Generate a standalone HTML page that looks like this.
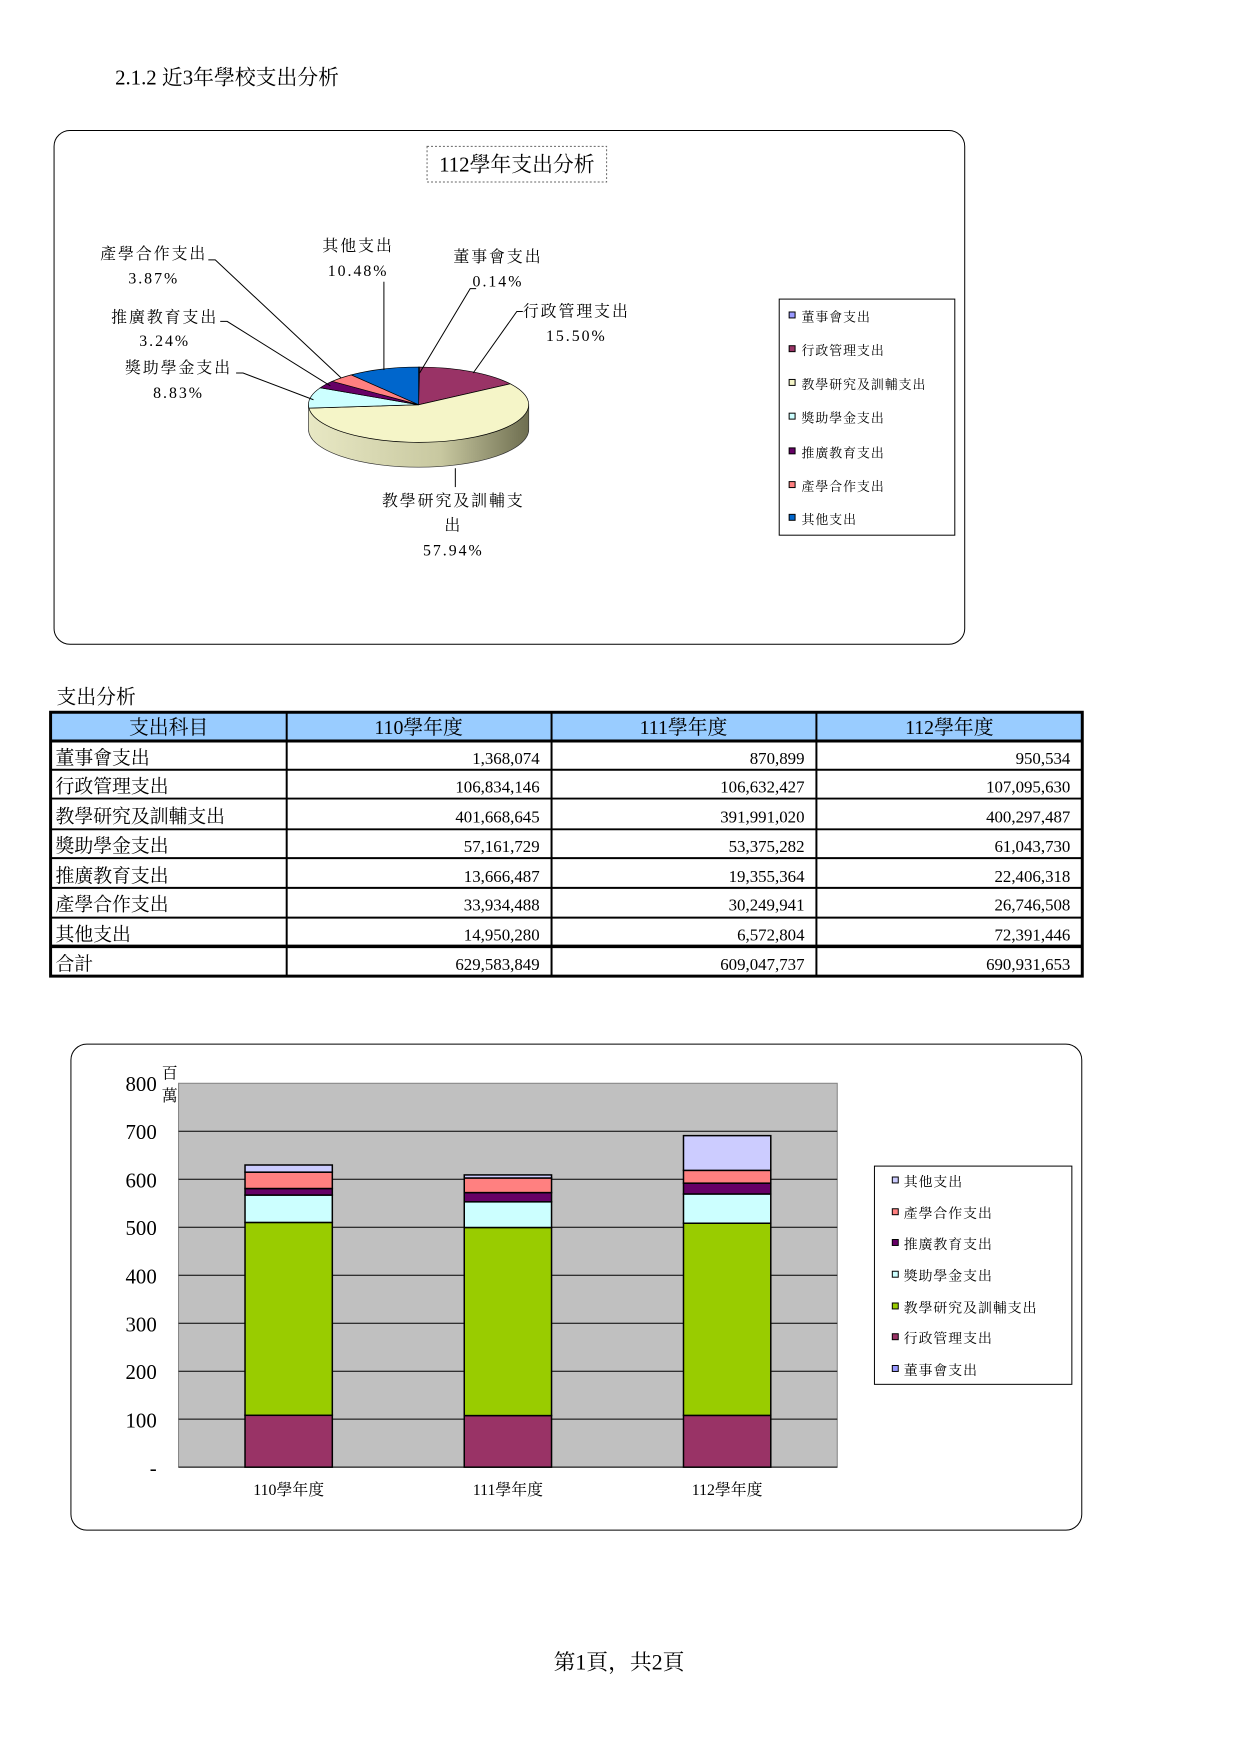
<!DOCTYPE html>
<html><head><meta charset="utf-8"><style>
html,body{margin:0;padding:0;background:#fff}
svg{display:block}
text{font-family:"Liberation Serif","Noto Serif CJK SC","Noto Sans CJK TC",serif;fill:#000}
</style></head><body>
<svg width="1241" height="1755" viewBox="0 0 1241 1755" xmlns="http://www.w3.org/2000/svg">
<defs>
<linearGradient id="side" x1="0" x2="1" y1="0" y2="0">
<stop offset="0" stop-color="#e8e8c4"/><stop offset="0.6" stop-color="#c8c8a0"/><stop offset="1" stop-color="#6e6e50"/>
</linearGradient>
</defs>
<g transform="scale(0.992)">
<text x="116" y="85" font-size="21">2.1.2 近3年學校支出分析</text>

<rect x="54.5" y="131.5" width="918" height="518" rx="16" fill="none" stroke="#000" stroke-width="1"/>
<rect x="430.5" y="147.5" width="181" height="36" fill="none" stroke="#666" stroke-dasharray="2,2"/>
<text x="521" y="173" font-size="21" text-anchor="middle">112學年支出分析</text>

<path d="M311,408 L311,433 A111,38 0 0 0 533,433 L533,408 Z" fill="url(#side)" stroke="#333" stroke-width="0.7"/>
<path d="M422,408 L422,370 A111,38 0 0 1 423,370 Z" fill="#9999FF" stroke="#000" stroke-width="0.7"/>
<path d="M422,408 L423,370 A111,38 0 0 1 514.4,386.9 Z" fill="#993366" stroke="#000" stroke-width="0.7"/>
<path d="M422,408 L514.4,386.9 A111,38 0 1 1 311.4,411.4 Z" fill="#F5F5C8" stroke="#000" stroke-width="0.7"/>
<path d="M422,408 L311.4,411.4 A111,38 0 0 1 322.9,390.9 Z" fill="#CCFFFF" stroke="#000" stroke-width="0.7"/>
<path d="M422,408 L322.9,390.9 A111,38 0 0 1 334.9,384.4 Z" fill="#660066" stroke="#000" stroke-width="0.7"/>
<path d="M422,408 L334.9,384.4 A111,38 0 0 1 354.1,377.9 Z" fill="#FF8080" stroke="#000" stroke-width="0.7"/>
<path d="M422,408 L354.1,377.9 A111,38 0 0 1 422,370 Z" fill="#0066CC" stroke="#000" stroke-width="0.7"/>

<g stroke="#000" stroke-width="1" fill="none">
<polyline points="210,262 217,262 344,381"/>
<polyline points="222,324 229,324 333,389"/>
<polyline points="238,376 245,376 316,403"/>
<polyline points="387,284 387,373"/>
<polyline points="480,291 474,291 423,376"/>
<polyline points="527,314 521,314 477,376"/>
<polyline points="459,472 459,491"/>
</g>
<g font-size="16" text-anchor="middle" letter-spacing="2">
<text x="155" y="261">產學合作支出</text><text x="155" y="286">3.87%</text>
<text x="361" y="253">其他支出</text><text x="361" y="278">10.48%</text>
<text x="502" y="264">董事會支出</text><text x="502" y="289">0.14%</text>
<text x="581" y="319">行政管理支出</text><text x="581" y="344">15.50%</text>
<text x="166" y="325">推廣教育支出</text><text x="166" y="349">3.24%</text>
<text x="180" y="376">獎助學金支出</text><text x="180" y="401">8.83%</text>
<text x="457" y="510">教學研究及訓輔支</text><text x="457" y="535">出</text><text x="457" y="560">57.94%</text>
</g>

<rect x="785.5" y="301.5" width="177" height="238" fill="#fff" stroke="#000"/>
<g stroke="#000" stroke-width="1">
<rect x="795.5" y="314.5" width="6" height="6" fill="#9999FF"/>
<rect x="795.5" y="348.5" width="6" height="6" fill="#993366"/>
<rect x="795.5" y="382.5" width="6" height="6" fill="#F5F5C8"/>
<rect x="795.5" y="416.5" width="6" height="6" fill="#CCFFFF"/>
<rect x="795.5" y="451.5" width="6" height="6" fill="#660066"/>
<rect x="795.5" y="485.5" width="6" height="6" fill="#FF8080"/>
<rect x="795.5" y="518.5" width="6" height="6" fill="#0066CC"/>
</g>
<g font-size="13" letter-spacing="1">
<text x="808" y="324">董事會支出</text>
<text x="808" y="358">行政管理支出</text>
<text x="808" y="392">教學研究及訓輔支出</text>
<text x="808" y="426">獎助學金支出</text>
<text x="808" y="461">推廣教育支出</text>
<text x="808" y="495">產學合作支出</text>
<text x="808" y="528">其他支出</text>
</g>

<text x="57" y="709" font-size="20">支出分析</text>
<rect x="50" y="717" width="1042" height="30" fill="#99CCFF"/>
<g stroke="#000" fill="none">
<rect x="51" y="718" width="1040" height="266" stroke-width="3"/>
<line x1="50" y1="747" x2="1092" y2="747" stroke-width="3"/>
<line x1="50" y1="776" x2="1092" y2="776" stroke-width="2"/>
<line x1="50" y1="805" x2="1092" y2="805" stroke-width="2"/>
<line x1="50" y1="836" x2="1092" y2="836" stroke-width="2"/>
<line x1="50" y1="865" x2="1092" y2="865" stroke-width="2"/>
<line x1="50" y1="895" x2="1092" y2="895" stroke-width="2"/>
<line x1="50" y1="925" x2="1092" y2="925" stroke-width="2"/>
<line x1="50" y1="954" x2="1092" y2="954" stroke-width="3.5"/>
<line x1="289" y1="717" x2="289" y2="985" stroke-width="2"/>
<line x1="556" y1="717" x2="556" y2="985" stroke-width="2"/>
<line x1="823" y1="717" x2="823" y2="985" stroke-width="2"/>
</g>
<g font-size="20" text-anchor="middle">
<text x="170" y="740">支出科目</text><text x="422" y="740">110學年度</text><text x="689" y="740">111學年度</text><text x="957" y="740">112學年度</text>
</g>
<g font-size="19">
<text x="56" y="770">董事會支出</text>
<text x="56" y="799">行政管理支出</text>
<text x="56" y="829">教學研究及訓輔支出</text>
<text x="56" y="859">獎助學金支出</text>
<text x="56" y="889">推廣教育支出</text>
<text x="56" y="918">產學合作支出</text>
<text x="56" y="948">其他支出</text>
<text x="56" y="978">合計</text>
</g>
<g font-size="17" text-anchor="end">
<text x="544" y="770">1,368,074</text><text x="811" y="770">870,899</text><text x="1079" y="770">950,534</text>
<text x="544" y="799">106,834,146</text><text x="811" y="799">106,632,427</text><text x="1079" y="799">107,095,630</text>
<text x="544" y="829">401,668,645</text><text x="811" y="829">391,991,020</text><text x="1079" y="829">400,297,487</text>
<text x="544" y="859">57,161,729</text><text x="811" y="859">53,375,282</text><text x="1079" y="859">61,043,730</text>
<text x="544" y="889">13,666,487</text><text x="811" y="889">19,355,364</text><text x="1079" y="889">22,406,318</text>
<text x="544" y="918">33,934,488</text><text x="811" y="918">30,249,941</text><text x="1079" y="918">26,746,508</text>
<text x="544" y="948">14,950,280</text><text x="811" y="948">6,572,804</text><text x="1079" y="948">72,391,446</text>
<text x="544" y="978">629,583,849</text><text x="811" y="978">609,047,737</text><text x="1079" y="978">690,931,653</text>
</g>

<rect x="71.5" y="1052.5" width="1019" height="490" rx="16" fill="none" stroke="#000"/>
<rect x="180" y="1092" width="664" height="387" fill="#C0C0C0" stroke="#808080"/>
<g stroke="#000" stroke-width="1">
<line x1="180" y1="1430.6" x2="844" y2="1430.6"/><line x1="180" y1="1382.3" x2="844" y2="1382.3"/>
<line x1="180" y1="1333.9" x2="844" y2="1333.9"/><line x1="180" y1="1285.5" x2="844" y2="1285.5"/>
<line x1="180" y1="1237.1" x2="844" y2="1237.1"/><line x1="180" y1="1188.8" x2="844" y2="1188.8"/>
<line x1="180" y1="1140.4" x2="844" y2="1140.4"/>
<line x1="180" y1="1479" x2="844" y2="1479"/>
</g>
<g stroke="#000" stroke-width="1.5">
<rect x="247" y="1426.7" width="88" height="52.3" fill="#993366"/>
<rect x="247" y="1232.3" width="88" height="194.4" fill="#99CC00"/>
<rect x="247" y="1204.7" width="88" height="27.6" fill="#CCFFFF"/>
<rect x="247" y="1198.1" width="88" height="6.6" fill="#660066"/>
<rect x="247" y="1181.6" width="88" height="16.5" fill="#FF8080"/>
<rect x="247" y="1174.4" width="88" height="7.2" fill="#CCCCFF"/>
<rect x="468" y="1427" width="88" height="52" fill="#993366"/>
<rect x="468" y="1237.4" width="88" height="189.6" fill="#99CC00"/>
<rect x="468" y="1211.5" width="88" height="25.9" fill="#CCFFFF"/>
<rect x="468" y="1202.2" width="88" height="9.3" fill="#660066"/>
<rect x="468" y="1187.5" width="88" height="14.7" fill="#FF8080"/>
<rect x="468" y="1184.4" width="88" height="3.1" fill="#CCCCFF"/>
<rect x="689" y="1426.8" width="88" height="52.2" fill="#993366"/>
<rect x="689" y="1233.1" width="88" height="193.7" fill="#99CC00"/>
<rect x="689" y="1203.6" width="88" height="29.5" fill="#CCFFFF"/>
<rect x="689" y="1192.7" width="88" height="10.9" fill="#660066"/>
<rect x="689" y="1179.8" width="88" height="12.9" fill="#FF8080"/>
<rect x="689" y="1144.8" width="88" height="35" fill="#CCCCFF"/>
</g>
<g font-size="21" text-anchor="end">
<text x="158" y="1100">800</text><text x="158" y="1148">700</text><text x="158" y="1197">600</text>
<text x="158" y="1245">500</text><text x="158" y="1294">400</text><text x="158" y="1342">300</text>
<text x="158" y="1390">200</text><text x="158" y="1439">100</text><text x="158" y="1487">-</text>
</g>
<text x="163" y="1087" font-size="16">百</text><text x="163" y="1110" font-size="16">萬</text>
<g font-size="16" text-anchor="middle">
<text x="291" y="1507">110學年度</text><text x="512" y="1507">111學年度</text><text x="733" y="1507">112學年度</text>
</g>
<rect x="881.5" y="1175.5" width="199" height="220" fill="#fff" stroke="#000"/>
<g stroke="#000">
<rect x="899.5" y="1186.5" width="6" height="6" fill="#CCCCFF"/>
<rect x="899.5" y="1218.5" width="6" height="6" fill="#FF8080"/>
<rect x="899.5" y="1249.5" width="6" height="6" fill="#660066"/>
<rect x="899.5" y="1281.5" width="6" height="6" fill="#CCFFFF"/>
<rect x="899.5" y="1313.5" width="6" height="6" fill="#99CC00"/>
<rect x="899.5" y="1344.5" width="6" height="6" fill="#993366"/>
<rect x="899.5" y="1376.5" width="6" height="6" fill="#9999FF"/>
</g>
<g font-size="14" letter-spacing="1">
<text x="911" y="1196">其他支出</text>
<text x="911" y="1228">產學合作支出</text>
<text x="911" y="1259">推廣教育支出</text>
<text x="911" y="1291">獎助學金支出</text>
<text x="911" y="1323">教學研究及訓輔支出</text>
<text x="911" y="1354">行政管理支出</text>
<text x="911" y="1386">董事會支出</text>
</g>

<text x="624" y="1683" font-size="22" text-anchor="middle">第1頁，共2頁</text>
</g>
</svg>
</body></html>
